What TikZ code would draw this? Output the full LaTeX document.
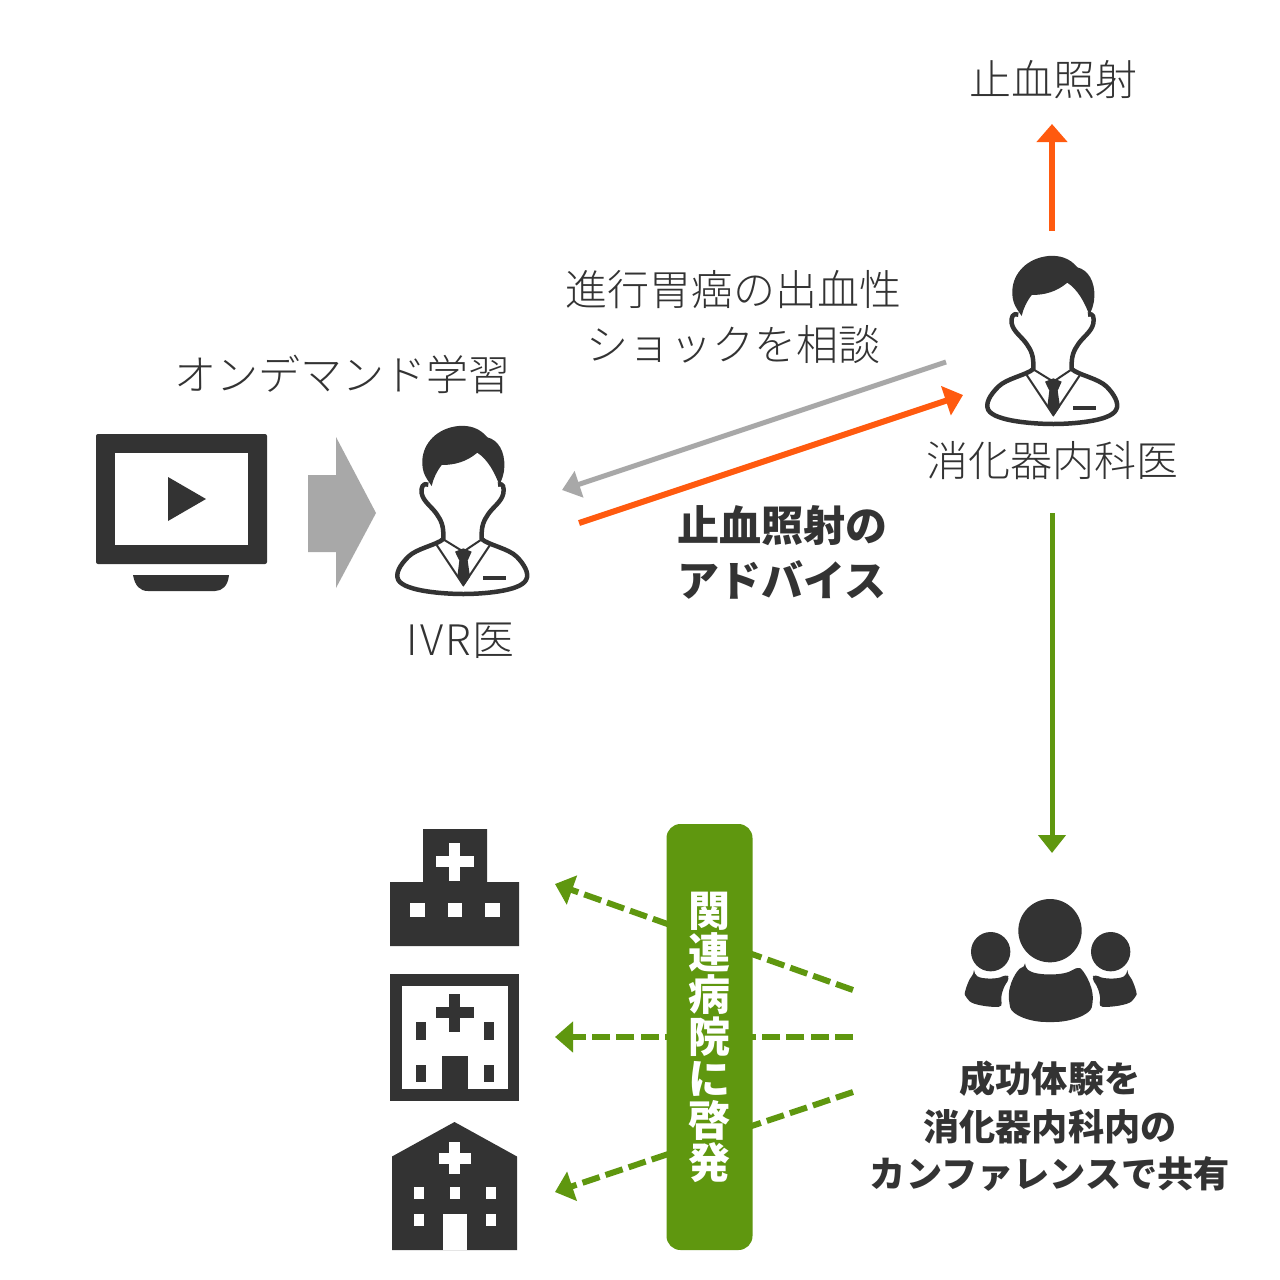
\documentclass[tikz,border=0pt]{standalone}
\usepackage{fontspec}
\setmainfont{Noto Sans CJK JP}
\newfontfamily\lightjp{Noto Sans CJK JP Light}
\usetikzlibrary{arrows.meta}
\definecolor{ink}{HTML}{333333}
\definecolor{txt}{HTML}{333333}
\definecolor{orng}{HTML}{FF5A0F}
\definecolor{grn}{HTML}{5F970F}
\definecolor{gry}{HTML}{A8A8A8}
\tikzset{
  x=1pt,y=-1pt,
  lab/.style={inner sep=0pt,text=txt,font=\lightjp\fontsize{42}{48}\selectfont,align=center},
  blab/.style={inner sep=0pt,text=ink,font=\fontsize{42}{48}\bfseries\selectfont,align=center},
  slab/.style={inner sep=0pt,text=ink,font=\fontsize{36.2}{36}\bfseries\selectfont,align=center},
  conn/.style={line width=6pt,-{Triangle[length=18pt,width=30pt]}},
  gconn/.style={line width=5pt,-{Triangle[length=18pt,width=27pt]}},
  dconn/.style={line width=6pt,grn,dash pattern=on 18pt off 6.3pt,-{Triangle[length=18pt,width=30pt,sep=0pt]}},
  zoomed/.style={x=0.33333pt,y=-0.33333pt}
}
\newcommand{\personicon}[2]{%
\begin{scope}[shift={(#1,#2)},zoomed]
  \draw[ink,line width=4.5pt,line join=round,fill=white]
    (145,224) .. controls (128,216) and (122,235) .. (125,250)
    .. controls (130,275) and (155,290) .. (170,312)
    .. controls (182,330) and (192,345) .. (190,387)
    .. controls (170,405) and (110,415) .. (85,440)
    .. controls (60,465) and (45,490) .. (55,510)
    .. controls (75,545) and (200,552) .. (250,552)
    .. controls (300,552) and (420,545) .. (438,510)
    .. controls (450,490) and (430,460) .. (410,440)
    .. controls (385,415) and (325,405) .. (305,387)
    .. controls (303,345) and (313,330) .. (325,312)
    .. controls (340,290) and (365,275) .. (370,250)
    .. controls (373,235) and (370,216) .. (354,224);
  \fill[ink] (155,228) .. controls (140,205) and (125,190) .. (127,150)
    .. controls (130,100) and (170,55) .. (235,48)
    .. controls (270,45) and (300,55) .. (322,82)
    .. controls (355,90) and (375,125) .. (373,170)
    .. controls (372,195) and (365,210) .. (358,225)
    .. controls (345,190) and (325,150) .. (292,128)
    .. controls (260,155) and (225,165) .. (185,165)
    .. controls (170,185) and (160,205) .. (155,228) -- cycle;
  \draw[ink,line width=2pt,line join=round] (170,405) -- (250,525) -- (330,405);
  \draw[ink,line width=2pt,line join=round] (190,388) -- (250,425) -- (305,388);
  \fill[ink] (225,425) -- (250,415) -- (275,425) -- (263,452) -- (270,500) -- (250,530) -- (232,500) -- (238,452) -- cycle;
  \fill[ink] (310,497) rectangle (378,510);
\end{scope}}
\newcommand{\crossicon}[5]{% cx cy half thick colour
  \fill[#5] (#1-#4,#2-#3) rectangle (#1+#4,#2+#3);
  \fill[#5] (#1-#3,#2-#4) rectangle (#1+#3,#2+#4);}
\begin{document}
\begin{tikzpicture}
\useasboundingbox (0,0) rectangle (1280,1280);
\fill[white] (0,0) rectangle (1280,1280);

% monitor
\fill[ink,rounded corners=2pt] (96,434) rectangle (267,564);
\fill[white] (115,453) rectangle (248,545);
\fill[ink] (168,477) -- (206,499) -- (168,521) -- cycle;
\fill[ink] (133,575) -- (229,575) .. controls (228,586) and (222,591) .. (215,591) -- (148,591) .. controls (140,591) and (135,586) .. (133,575) -- cycle;
% chevron
\fill[gry] (308,475) -- (336,475) -- (336,437) -- (376,513) -- (336,588) -- (336,552) -- (308,552) -- cycle;

\personicon{380}{410}
\personicon{970}{240}

% hospital 1
\fill[ink] (423,829) -- (487,829) -- (487,882) -- (519,882) -- (519,946) -- (390,946) -- (390,882) -- (423,882) -- cycle;
\crossicon{454.5}{861.5}{19}{5.5}{white}
\fill[white] (410,903) rectangle (424.5,917);
\fill[white] (447.5,903) rectangle (462,917);
\fill[white] (485,903) rectangle (499.5,917);
% hospital 2
\fill[ink] (390,974) rectangle (519,1101);
\fill[white] (402,985.5) rectangle (507.5,1089);
\crossicon{454.5}{1012.5}{19}{5.5}{ink}
\fill[ink] (415.5,1021.5) rectangle (425.5,1039.5);
\fill[ink] (484,1021.5) rectangle (494,1039.5);
\fill[ink] (415.5,1064.5) rectangle (425.5,1082);
\fill[ink] (484,1064.5) rectangle (494,1082);
\fill[ink] (441.5,1056) rectangle (467.5,1089);
% hospital 3
\fill[ink] (454.5,1122) -- (517,1156.5) -- (517,1250) -- (392,1250) -- (392,1156.5) -- cycle;
\crossicon{454.5}{1158}{16}{5.5}{white}
\fill[white] (413.5,1187) rectangle (423.5,1199);
\fill[white] (449.5,1187) rectangle (459.5,1199);
\fill[white] (486,1187) rectangle (496,1199);
\fill[white] (413.5,1213.5) rectangle (423.5,1225.5);
\fill[white] (486,1213.5) rectangle (496,1225.5);
\fill[white] (442.5,1213.5) rectangle (466.5,1250);

% group
\begin{scope}[shift={(950,890)},zoomed]
  \fill[ink] (300,122) circle (95);
  \fill[ink] (122,185) circle (59);
  \fill[ink] (482,185) circle (59);
  \fill[ink,rounded corners=4pt] (225,232) .. controls (255,258) and (345,258) .. (378,232)
    .. controls (395,235) and (430,280) .. (428,340)
    .. controls (420,375) and (360,396) .. (300,396)
    .. controls (240,396) and (185,375) .. (178,340)
    .. controls (172,280) and (205,235) .. (225,232) -- cycle;
  \fill[ink,rounded corners=4pt] (72,252) .. controls (95,268) and (145,268) .. (168,252)
    -- (180,265) .. controls (160,290) and (150,320) .. (158,350)
    .. controls (120,352) and (70,345) .. (50,325)
    .. controls (42,310) and (55,270) .. (72,252) -- cycle;
  \fill[ink,rounded corners=4pt] (532,252) .. controls (509,268) and (459,268) .. (436,252)
    -- (424,265) .. controls (444,290) and (454,320) .. (446,350)
    .. controls (484,352) and (534,345) .. (554,325)
    .. controls (562,310) and (549,270) .. (532,252) -- cycle;
\end{scope}

% labels
\node[lab] (hemo) at (1053,80) {止血照射};
\node[lab] (cons) at (733,317) {進行胃癌の出血性\\[7pt]ショックを相談};
\node[lab] (ond) at (342,374) {オンデマンド学習};
\node[lab] (gi) at (1052,461) {消化器内科医};
\node[lab] (ivr) at (461,641) {I\kern2pt V\kern2pt R\kern2pt 医};
\node[blab] (adv) at (782,552) {止血照射の\\[7pt]アドバイス};
\node[slab] (share) at (1050,1126) {成功体験を\\[12pt]消化器内科内の\\[11pt]カンファレンスで共有};

% connector end points
\coordinate (upS) at (1052,231);
\coordinate (upE) at (1052,124);
\coordinate (gS) at (946,362);
\coordinate (gE) at (562,490);
\coordinate (oS) at (579,523);
\coordinate (oE) at (963,395);
\coordinate (dS) at (1052,513);
\coordinate (dE) at (1052,853);
\coordinate (a1) at (853,990);
\coordinate (b1) at (555,884);
\coordinate (a2) at (853,1037);
\coordinate (b2) at (555,1037);
\coordinate (a3) at (853,1092);
\coordinate (b3) at (555,1192);

\draw[conn,orng] (upS) -- (upE);
\draw[gconn,gry] (gS) -- (gE);
\draw[conn,orng] (oS) -- (oE);
\draw[gconn,grn] (dS) -- (dE);
\draw[dconn] (a1) -- (b1);
\draw[dconn] (a2) -- (b2);
\draw[dconn] (a3) -- (b3);

% band
\node[fill=grn,rounded corners=14pt,minimum width=86pt,minimum height=426pt,inner sep=0pt] (band) at (709.5,1037) {};
\node[inner sep=0pt,text=white,font=\fontsize{42}{42}\bfseries\selectfont,align=center] (bandt) at (709,1037) {関\\連\\病\\院\\に\\啓\\発};
\end{tikzpicture}
\end{document}
